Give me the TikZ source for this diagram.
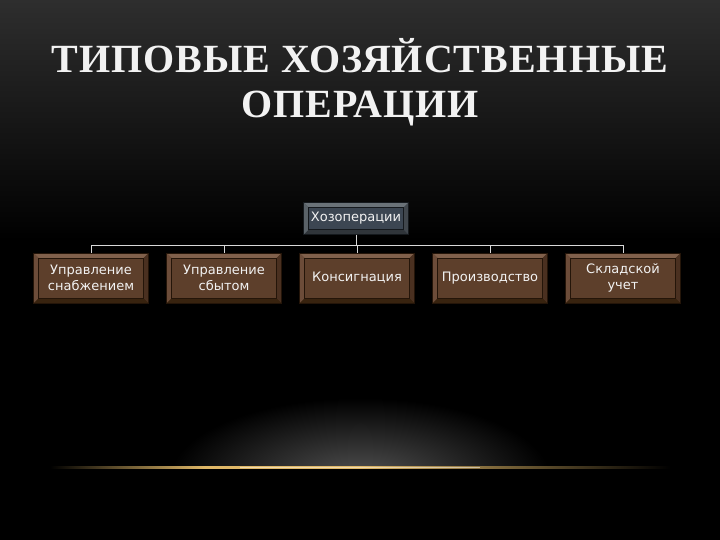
\documentclass[tikz,border=0pt]{standalone}
\usepackage{fontspec}
\setmainfont{Liberation Serif}
\newfontfamily\boxfont{DejaVu Sans}
\newfontfamily\titlefont[LetterSpace=2.5]{Liberation Serif Bold}
\usetikzlibrary{calc}
\definecolor{facebrown}{HTML}{5D3F2B}
\definecolor{bevtopb}{HTML}{80604B}
\definecolor{bevleftb}{HTML}{6C4C39}
\definecolor{bevrightb}{HTML}{4A3020}
\definecolor{bevbotb}{HTML}{38230F}
\definecolor{edgeb}{HTML}{241509}
\definecolor{faceslate}{HTML}{3C4652}
\definecolor{bevtops}{HTML}{6A7278}
\definecolor{bevlefts}{HTML}{5A6268}
\definecolor{bevrights}{HTML}{41474D}
\definecolor{bevbots}{HTML}{30353A}
\definecolor{edges}{HTML}{15191D}
\definecolor{connc}{HTML}{D8D8D8}
\definecolor{goldc}{HTML}{E0B868}
\tikzset{
  bevel/.style n args={6}{
    path picture={
      \def\pb{path picture bounding box}
      \fill[#2] (\pb.north west) -- (\pb.north east) -- ([shift={(-5pt,-5pt)}]\pb.north east) -- ([shift={(5pt,-5pt)}]\pb.north west) -- cycle;
      \fill[#5] (\pb.south west) -- (\pb.south east) -- ([shift={(-5pt,5pt)}]\pb.south east) -- ([shift={(5pt,5pt)}]\pb.south west) -- cycle;
      \fill[#3] (\pb.north west) -- ([shift={(5pt,-5pt)}]\pb.north west) -- ([shift={(5pt,5pt)}]\pb.south west) -- (\pb.south west) -- cycle;
      \fill[#4] (\pb.north east) -- ([shift={(-5pt,-5pt)}]\pb.north east) -- ([shift={(-5pt,5pt)}]\pb.south east) -- (\pb.south east) -- cycle;
      \draw[#6, line width=0.8pt] ([shift={(5pt,-5pt)}]\pb.north west) rectangle ([shift={(-5pt,5pt)}]\pb.south east);
    },
    fill=#1, draw=#6, line width=0.6pt
  },
  brownbox/.style={bevel={facebrown}{bevtopb}{bevleftb}{bevrightb}{bevbotb}{edgeb},
    minimum width=115pt, minimum height=50pt, inner sep=0pt, text width=110pt, align=center,
    font=\boxfont\fontsize{13}{15.5}\selectfont, text=white!95!black},
  slatebox/.style={bevel={faceslate}{bevtops}{bevlefts}{bevrights}{bevbots}{edges},
    minimum width=105pt, minimum height=32pt, inner sep=0pt, align=center,
    font=\boxfont\fontsize{13}{15.5}\selectfont, text=white!95!black},
  conn/.style={draw=connc, line width=0.8pt},
  titletext/.style={text=white!95!black, align=center,
    font=\titlefont\fontsize{40}{45}\selectfont}
}
\begin{document}
\begin{tikzpicture}[x=1pt,y=-1pt]
\useasboundingbox (0,0) rectangle (720,540);
\fill[black] (0,0) rectangle (720,540);
\shade[top color=black!82!white, bottom color=black] (0,0) rectangle (720,240);
% bottom glow
\begin{scope}
  \clip (60,380) rectangle (660,467);
  \fill[inner color=black!68!white, outer color=black] (360,478) ellipse (190pt and 80pt);
\end{scope}
\shade[left color=black, right color=goldc, middle color=goldc] (50,466) rectangle (360,468.5);
\shade[left color=goldc, right color=black] (360,466) rectangle (670,468.5);
\fill[white!80!goldc, opacity=0.6] (240,466.6) rectangle (480,467.8);
% title
\node[titletext] (title) at (360,82) {ТИПОВЫЕ ХОЗЯЙСТВЕННЫЕ\\ОПЕРАЦИИ};
% nodes
\node[slatebox] (top) at (356,218.5) {Хозоперации};
\node[brownbox] (c1) at (91,278) {Управление\\снабжением};
\node[brownbox] (c2) at (224,278) {Управление\\сбытом};
\node[brownbox] (c3) at (357,278) {Консигнация};
\node[brownbox] (c4) at (490,278) {Производство};
\node[brownbox] (c5) at (623,278) {Складской\\учет};
\coordinate (bus) at (0,245);
\foreach \c in {c1,c2,c3,c4,c5}{
  \draw[conn] (top.south) -- (top.south |- bus) -| (\c.north);
}
\end{tikzpicture}
\end{document}
